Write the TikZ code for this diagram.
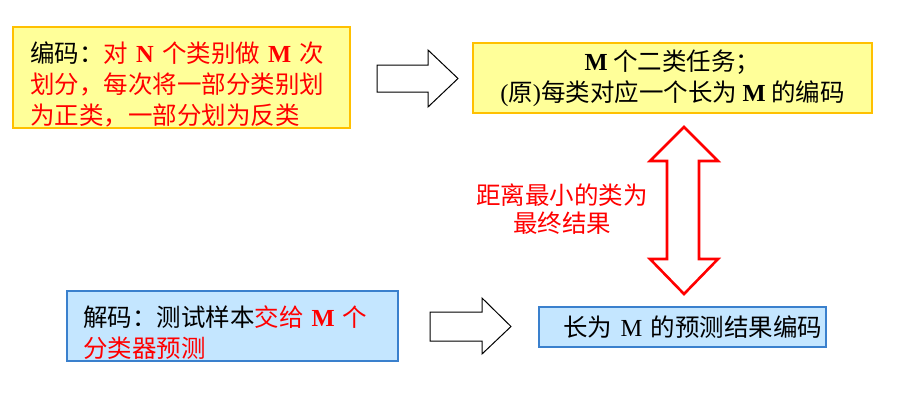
\documentclass[tikz,border=0pt]{standalone}
\usepackage{fontspec}
\setmainfont{Noto Sans CJK SC}
\newfontfamily\tnr{Liberation Serif}
\usepackage{tikz}
\usetikzlibrary{calc}

\definecolor{boxyellow}{RGB}{255,255,153}
\definecolor{boxorange}{RGB}{255,192,0}
\definecolor{boxblue}{RGB}{196,230,255}
\definecolor{boxline}{RGB}{58,128,205}

\newcommand{\lat}[1]{{\tnr\bfseries #1}}
\newcommand{\latr}[1]{{\tnr #1}}

\begin{document}
\begin{tikzpicture}[x=1pt, y=-1pt,
        ybox/.style={rectangle, draw=boxorange, fill=boxyellow, line width=1.5pt, inner ysep=0pt},
        bbox/.style={rectangle, draw=boxline, fill=boxblue, line width=1.5pt, inner ysep=0pt},
        blockarrow/.style={draw=black, fill=white, line width=1pt, line join=miter},
        redarrow/.style={draw=red, fill=white, line width=2.6pt, line join=miter},
        font=\fontsize{24.5}{31}\selectfont]
        \useasboundingbox (0,0) rectangle (899,405);

        % coding step
        \node [ybox, minimum width=337pt, minimum height=101pt, text width=303pt, inner xsep=17pt, align=left] (coding) at (181.5,77.5) {
            \rule{0pt}{34pt}编码：\color{red}对 \lat{N} 个类别做 \lat{M} 次\\
            划分，每次将一部分类别划\\
            为正类，一部分划为反类
        };
        \node [ybox, minimum width=399pt, minimum height=70pt, align=center] (tasks) at (672.5,78) {
            \lat{M} 个二类任务；\\
            \latr{(}原\latr{)}每类对应一个长为 \lat{M} 的编码
        };

        % decoding step
        \node [bbox, minimum width=331pt, minimum height=70pt, text width=299pt, inner xsep=16pt, align=left] (decoding) at (232.5,326) {
            \rule{0pt}{34pt}解码：测试样本\color{red}交给 \lat{M} 个\\
            分类器预测
        };
        \node [bbox, minimum width=287pt, minimum height=40pt, text width=279pt, inner xsep=4pt, align=right] (predict) at (682.5,327) {
            长为 \latr{M} 的预测结果编码
        };

        \node [text=red, align=center, font=\fontsize{24.5}{28}\selectfont] (result) at (562,209) {
            距离最小的类为\\
            最终结果
        };

        % block arrows
        \draw [blockarrow] (377,65) -- (428,65) -- (428,50) -- (458,78.5) -- (428,107) -- (428,92) -- (377,92) -- cycle;
        \draw [blockarrow] (430,312) -- (482,312) -- (482,298) -- (511,326.5) -- (482,354) -- (482,341) -- (430,341) -- cycle;
        \draw [redarrow] (684,127) -- (718,161) -- (699,161) -- (699,259) -- (718,259) -- (684,294)
            -- (650,259) -- (667,259) -- (667,161) -- (650,161) -- cycle;
    \end{tikzpicture}
\end{document}
